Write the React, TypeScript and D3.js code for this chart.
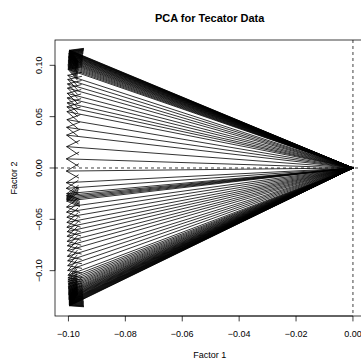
import * as d3 from 'd3';
import React from 'react';

// PCA loadings (100 spectrometer channels), top to bottom
const factor2 = [
  0.1147, 0.1143, 0.1139, 0.1135, 0.1131, 0.1127, 0.1122, 0.1117, 0.1112, 0.1107,
  0.1101, 0.1095, 0.1089, 0.1082, 0.1075, 0.1068, 0.1060, 0.1052, 0.1044, 0.1035,
  0.1026, 0.1016, 0.1006, 0.0995, 0.0984, 0.0972, 0.0960,
  0.0903, 0.0862, 0.0819, 0.0778, 0.0727, 0.0682, 0.0634, 0.0595, 0.0549, 0.0471,
  0.0396, 0.0320, 0.0208, 0.0089,
  -0.0030, -0.0143, -0.0198,
  -0.0250, -0.0268, -0.0282, -0.0295, -0.0308, -0.0322,
  -0.0380, -0.0430, -0.0480, -0.0530, -0.0577, -0.0620, -0.0665, -0.0714, -0.0758,
  -0.0805, -0.0860, -0.0904, -0.0951, -0.0998, -0.1044,
  -0.1070, -0.1090, -0.1108, -0.1124, -0.1139, -0.1153, -0.1166, -0.1178, -0.1189,
  -0.1199, -0.1209, -0.1218, -0.1226, -0.1234, -0.1241, -0.1248, -0.1255, -0.1261,
  -0.1267, -0.1273, -0.1279, -0.1285, -0.1290, -0.1295, -0.1300, -0.1305, -0.1310,
  -0.1315, -0.1320, -0.1325, -0.1330, -0.1334, -0.1338, -0.1342,
];

const factor1 = [
  -0.0996, -0.0996, -0.0996, -0.0997, -0.0997, -0.0997, -0.0997, -0.0998, -0.0998, -0.0998,
  -0.0998, -0.0998, -0.0999, -0.0999, -0.0999, -0.0999, -0.0999, -0.1000, -0.1000, -0.1000,
  -0.1000, -0.1000, -0.1001, -0.1001, -0.1001, -0.1001, -0.1001,
  -0.1002, -0.1002, -0.1003, -0.1003, -0.1004, -0.1004, -0.1004, -0.1005, -0.1005, -0.1005,
  -0.1006, -0.1006, -0.1006, -0.1007,
  -0.1007, -0.1007, -0.1007,
  -0.1006, -0.1006, -0.1006, -0.1006, -0.1006, -0.1006,
  -0.1006, -0.1006, -0.1005, -0.1005, -0.1005, -0.1004, -0.1004, -0.1004, -0.1003,
  -0.1003, -0.1003, -0.1002, -0.1002, -0.1002, -0.1001,
  -0.1001, -0.1001, -0.1001, -0.1000, -0.1000, -0.1000, -0.1000, -0.1000, -0.0999,
  -0.0999, -0.0999, -0.0999, -0.0999, -0.0999, -0.0998, -0.0998, -0.0998, -0.0998,
  -0.0998, -0.0998, -0.0998, -0.0997, -0.0997, -0.0997, -0.0997, -0.0997, -0.0997,
  -0.0997, -0.0997, -0.0997, -0.0997, -0.0996, -0.0996, -0.0996,
];

const xTicks = [-0.1, -0.08, -0.06, -0.04, -0.02, 0];
const yTicks = [-0.1, -0.05, 0, 0.05, 0.1];

const W = 361, H = 360;
const left = 55, right = 364.4, top = 40, bottom = 316;
const headLen = 14;
const font = '"Liberation Sans", Arial, Helvetica, sans-serif';

// R style axis range: data extent padded by 4%
const pad = (lo, hi) => { const d = (hi - lo) * 0.04; return [lo - d, hi + d]; };

export default function App() {
  const xExt = pad(Math.min(0, d3.min(factor1)), Math.max(0, d3.max(factor1)));
  const yExt = pad(Math.min(0, d3.min(factor2)), Math.max(0, d3.max(factor2)));
  const x = d3.scaleLinear().domain(xExt).range([left, right]);
  const y = d3.scaleLinear().domain(yExt).range([bottom, top]);
  const fmt = d3.format('.2f');

  const ox = x(0), oy = y(0);
  const arrows = factor1.map((f1, i) => {
    const px = x(f1), py = y(factor2[i]);
    const th = Math.atan2(oy - py, ox - px);
    const a = Math.PI / 6;
    const b1 = [px + headLen * Math.cos(th + a), py + headLen * Math.sin(th + a)];
    const b2 = [px + headLen * Math.cos(th - a), py + headLen * Math.sin(th - a)];
    return { px, py, b1, b2 };
  });

  return (
    <svg width={W} height={H} style={{ position: 'absolute', left: 0, top: 0, background: '#fff' }}
      fontFamily={font}>
      <defs>
        <clipPath id="plotclip">
          <rect x={left} y={top} width={right - left} height={bottom - top} />
        </clipPath>
      </defs>
      <g clipPath="url(#plotclip)">
        <line x1={left} x2={right} y1={oy} y2={oy} stroke="#000" strokeWidth={0.75} strokeDasharray="3,3" />
        <line x1={ox} x2={ox} y1={top} y2={bottom} stroke="#000" strokeWidth={0.75} strokeDasharray="3,3" />
        {arrows.map((d, i) => (
          <g key={i} fill="none" stroke="#000" strokeWidth={0.8} strokeLinecap="round" strokeLinejoin="round">
            <line x1={ox} y1={oy} x2={d.px} y2={d.py} />
            <path d={`M${d.b1[0]},${d.b1[1]}L${d.px},${d.py}L${d.b2[0]},${d.b2[1]}`} />
          </g>
        ))}
      </g>
      <rect x={left} y={top} width={right - left} height={bottom - top} fill="none" stroke="#000" strokeWidth={0.75} />

      {/* x axis */}
      <line x1={x(xTicks[0])} x2={x(xTicks[xTicks.length - 1])} y1={bottom} y2={bottom} stroke="#000" strokeWidth={0.75} />
      {xTicks.map(t => (
        <g key={t}>
          <line x1={x(t)} x2={x(t)} y1={bottom} y2={bottom + 5.4} stroke="#000" strokeWidth={0.75} />
          <text x={x(t)} y={bottom + 20.5} fontSize={9} textAnchor="middle" fill="#000">{fmt(t)}</text>
        </g>
      ))}
      {/* y axis */}
      <line x1={left} x2={left} y1={y(yTicks[0])} y2={y(yTicks[yTicks.length - 1])} stroke="#000" strokeWidth={0.75} />
      {yTicks.map(t => (
        <g key={t}>
          <line x1={left - 5.4} x2={left} y1={y(t)} y2={y(t)} stroke="#000" strokeWidth={0.75} />
          <text transform={`translate(${left - 13.5},${y(t)}) rotate(-90)`} fontSize={9} textAnchor="middle" fill="#000">{fmt(t)}</text>
        </g>
      ))}

      <text x={(left + right) / 2} y={21.5} fontSize={11} fontWeight="bold" textAnchor="middle" fill="#000">PCA for Tecator Data</text>
      <text x={(left + right) / 2} y={358} fontSize={9} textAnchor="middle" fill="#000">Factor 1</text>
      <text transform={`translate(${left - 38},${(top + bottom) / 2}) rotate(-90)`} fontSize={9} textAnchor="middle" fill="#000">Factor 2</text>
    </svg>
  );
}
